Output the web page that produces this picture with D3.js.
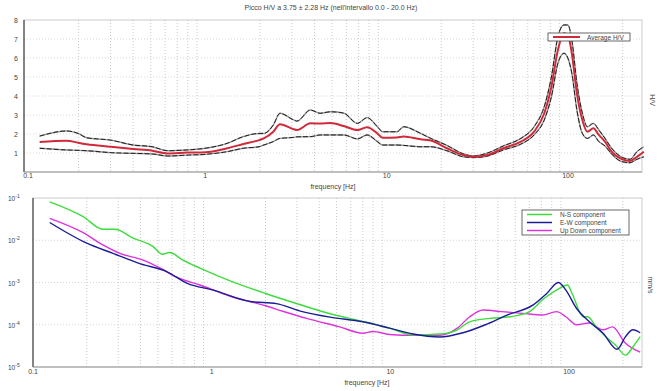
<!DOCTYPE html>
<html><head><meta charset="utf-8">
<script src="https://cdn.jsdelivr.net/npm/d3@7"></script>
<style>body{margin:0;background:#fff}svg{display:block;font-family:Arial,"Liberation Sans",sans-serif}</style>
</head><body><svg id="c" width="660" height="391"></svg>
<script>
// ---- data ----
const hvFreq = [0.122,0.172,0.199,0.222,0.30,0.40,0.51,0.62,0.79,1.0,1.32,1.62,1.98,2.1,2.37,2.58,3.07,3.2,3.8,4.3,4.9,5.8,6.9,7.8,8.9,9.5,11.4,12.4,15.4,17.5,21.5,26.5,30.3,36,44,55,65,74,81,88,95,100,105,112,120,128,138,148,160,174,199,220,240,262];
const hvAvg  = [1.58,1.65,1.54,1.46,1.33,1.21,1.12,0.98,1.02,1.04,1.25,1.47,1.68,1.77,2.12,2.51,2.25,2.21,2.56,2.55,2.58,2.42,2.21,2.36,2.03,1.80,1.82,1.87,1.72,1.66,1.25,0.89,0.80,0.89,1.25,1.60,2.12,3.09,4.49,6.42,7.30,7.20,6.25,4.14,2.74,2.12,2.30,1.95,1.60,1.07,0.67,0.58,0.80,1.07];
const hvUp   = [1.89,2.16,2.03,1.80,1.68,1.42,1.33,1.12,1.16,1.25,1.51,1.86,2.03,2.03,2.47,3.09,2.74,2.68,3.26,3.09,3.17,3.10,2.56,2.86,2.38,2.12,2.12,2.38,2.03,1.77,1.40,0.95,0.84,1.00,1.37,1.77,2.38,3.44,5.00,7.12,7.74,7.74,6.95,4.67,3.10,2.38,2.56,2.21,1.77,1.25,0.77,0.67,1.07,1.33];
const hvLow  = [1.25,1.16,1.14,1.12,1.02,0.98,0.95,0.84,0.89,0.93,1.07,1.25,1.33,1.42,1.60,1.77,1.82,1.85,1.86,1.95,1.95,1.95,1.74,1.95,1.60,1.42,1.42,1.40,1.33,1.33,1.12,0.80,0.76,0.84,1.16,1.47,1.95,2.74,3.96,5.72,6.25,5.98,5.20,3.26,2.03,1.77,1.95,1.60,1.37,0.95,0.54,0.49,0.67,0.80];

const nsFreq = [0.124,0.191,0.246,0.288,0.363,0.47,0.53,0.58,0.69,0.86,1.3,2.0,3.1,4.6,7.0,9.9,13.4,18.9,23.7,27.8,36,47,60,71,85,98,104,120,127,142,160,182,207,228,250];
const nsLog  = [-1.09,-1.44,-1.74,-1.74,-1.95,-2.15,-2.33,-2.29,-2.47,-2.66,-2.98,-3.26,-3.52,-3.74,-3.92,-4.08,-4.24,-4.22,-4.12,-3.93,-3.85,-3.81,-3.69,-3.41,-3.18,-3.06,-3.26,-3.81,-3.81,-4.05,-4.28,-4.48,-4.72,-4.52,-4.28];
const ewFreq = [0.124,0.2,0.28,0.4,0.56,0.73,1.02,1.64,2.3,3.1,4.6,7.0,9.9,13.4,18.9,25.5,34,45,63,75,87,96,110,130,155,186,207,228,250];
const ewLog  = [-1.58,-2.07,-2.31,-2.56,-2.74,-3.02,-3.18,-3.45,-3.50,-3.67,-3.82,-3.93,-4.08,-4.22,-4.29,-4.19,-4.0,-3.77,-3.53,-3.26,-3.0,-3.18,-3.61,-3.93,-4.2,-4.58,-4.28,-4.12,-4.19];
const udFreq = [0.124,0.191,0.246,0.306,0.413,0.51,0.64,0.86,1.26,2.0,2.5,3.4,5.2,7.0,8.0,9.9,13.4,18.9,23.7,27.8,33,42,55,71,85,96,110,130,155,175,207,250];
const udLog  = [-1.48,-1.82,-2.11,-2.31,-2.47,-2.65,-2.88,-3.06,-3.32,-3.55,-3.68,-3.85,-4.05,-4.2,-4.16,-4.23,-4.25,-4.25,-4.08,-3.81,-3.65,-3.69,-3.73,-3.77,-3.69,-3.81,-4.0,-3.96,-4.12,-4.05,-4.44,-4.65];

const xTickVals = [0.1,1,10,100];
const xTickLabels = ["0.1","1","10","100"];
const hvTicks = [1,2,3,4,5,6,7,8];
const specTicks = [-1,-2,-3,-4,-5];
const minorTicks = [0.2,0.3,0.4,0.5,0.6,0.7,0.8,0.9,2,3,4,5,6,7,8,9,20,30,40,50,60,70,80,90,200];
const titleText = "Picco H/V a 3.75 \u00b1 2.28 Hz (nell'intervallo 0.0 - 20.0 Hz)";
const legendNames = ["N-S component","E-W component","Up Down component"];
const colors = ["#3ddc3d","#1c1c96","#dd33dd"];

const svg = d3.select("#c");
const txt = "#444";

// ---- top panel ----
const xT = d3.scaleLog().domain([0.1,256]).range([24,642]);
const yT = d3.scaleLinear().domain([0,8]).range([172,20]);

svg.append("rect").attr("x",24).attr("y",20).attr("width",618).attr("height",152).attr("fill","none").attr("stroke","#ccc");
const gT = svg.append("g");
gT.selectAll("line.mv").data(minorTicks).join("line").attr("x1",d=>xT(d)).attr("x2",d=>xT(d)).attr("y1",20).attr("y2",172)
  .attr("stroke","#bbb").attr("stroke-dasharray","1,2").attr("stroke-width",0.8);
gT.selectAll("line.mh").data(hvTicks.slice(0,7)).join("line").attr("x1",24).attr("x2",642).attr("y1",d=>yT(d)).attr("y2",d=>yT(d))
  .attr("stroke","#ccc").attr("stroke-dasharray","1,2").attr("stroke-width",0.8);
svg.append("line").attr("x1",24).attr("x2",24).attr("y1",20).attr("y2",172).attr("stroke","#222");
svg.append("line").attr("x1",24).attr("x2",642).attr("y1",172).attr("y2",172).attr("stroke","#999");

const lineT = (fa,va)=>d3.line().curve(d3.curveMonotoneX).x((d,i)=>xT(fa[i])).y(d=>yT(d))(va);
svg.append("path").attr("d",lineT(hvFreq,hvUp)).attr("fill","none").attr("stroke","#999").attr("stroke-width",1.4);
svg.append("path").attr("d",lineT(hvFreq,hvLow)).attr("fill","none").attr("stroke","#999").attr("stroke-width",1.4);
svg.append("path").attr("d",lineT(hvFreq,hvUp)).attr("fill","none").attr("stroke","#111").attr("stroke-width",0.9).attr("stroke-dasharray","5,2");
svg.append("path").attr("d",lineT(hvFreq,hvLow)).attr("fill","none").attr("stroke","#111").attr("stroke-width",0.9).attr("stroke-dasharray","5,2");
svg.append("path").attr("d",lineT(hvFreq,hvAvg)).attr("fill","none").attr("stroke","#d02a3a").attr("stroke-width",2);

svg.selectAll("text.ytt").data(hvTicks).join("text").attr("x",16).attr("y",d=>yT(d)+2.5)
  .attr("text-anchor","middle").attr("font-size",7).attr("fill",txt).text(d=>d);
svg.selectAll("text.xtt").data(xTickVals).join("text").attr("x",d=>xT(d)+(d===0.1?4:0)).attr("y",178)
  .attr("text-anchor","middle").attr("font-size",7).attr("fill",txt).text((d,i)=>xTickLabels[i]);
svg.append("text").attr("x",331).attr("y",10).attr("text-anchor","middle").attr("font-size",7).attr("fill",txt).text(titleText);
svg.append("text").attr("x",333).attr("y",189).attr("text-anchor","middle").attr("font-size",7).attr("fill",txt).text("frequency [Hz]");
svg.append("text").attr("transform","translate(650,100) rotate(90)").attr("text-anchor","middle").attr("font-size",7).attr("fill",txt).text("H/V");

// legend top
svg.append("rect").attr("x",548).attr("y",33).attr("width",82).attr("height",8).attr("fill","#fff").attr("stroke","#444").attr("stroke-width",0.8);
svg.append("line").attr("x1",553).attr("x2",580).attr("y1",37).attr("y2",37).attr("stroke","#d02a3a").attr("stroke-width",2);
svg.append("text").attr("x",587).attr("y",39.5).attr("font-size",6.5).attr("fill",txt).text("Average H/V");

// ---- bottom panel ----
const xB = d3.scaleLog().domain([0.1,256]).range([33,642]);
const yB = d3.scaleLinear().domain([-5,-1]).range([367,198]);

svg.append("rect").attr("x",33).attr("y",198).attr("width",609).attr("height",169).attr("fill","none").attr("stroke","#ccc");
svg.selectAll("line.bv").data(minorTicks).join("line").attr("x1",d=>xB(d)).attr("x2",d=>xB(d)).attr("y1",198).attr("y2",367)
  .attr("stroke","#bbb").attr("stroke-dasharray","1,2").attr("stroke-width",0.8);
svg.selectAll("line.bh").data([-2,-3,-4]).join("line").attr("x1",33).attr("x2",642).attr("y1",d=>yB(d)).attr("y2",d=>yB(d))
  .attr("stroke","#ccc").attr("stroke-dasharray","1,2").attr("stroke-width",0.8);
svg.append("line").attr("x1",33).attr("x2",33).attr("y1",198).attr("y2",367).attr("stroke","#222");
svg.append("line").attr("x1",33).attr("x2",642).attr("y1",367).attr("y2",367).attr("stroke","#999");

const lineB = (fa,va)=>d3.line().curve(d3.curveMonotoneX).x((d,i)=>xB(fa[i])).y(d=>yB(d))(va);
[[udFreq,udLog,2],[nsFreq,nsLog,0],[ewFreq,ewLog,1]].forEach(([f,v,c])=>{
  svg.append("path").attr("d",lineB(f,v)).attr("fill","none").attr("stroke",colors[c]).attr("stroke-width",1.4);
});

const yl = svg.selectAll("text.ytb").data(specTicks).join("text").attr("x",8).attr("y",d=>yB(d)+3)
  .attr("font-size",6.5).attr("fill",txt);
yl.append("tspan").text("10");
yl.append("tspan").attr("dy",-3).attr("font-size",5).text(d=>d);
svg.selectAll("text.xtb").data(xTickVals).join("text").attr("x",d=>xB(d)).attr("y",374)
  .attr("text-anchor","middle").attr("font-size",7).attr("fill",txt).text((d,i)=>xTickLabels[i]);
svg.append("text").attr("x",367).attr("y",385).attr("text-anchor","middle").attr("font-size",7).attr("fill",txt).text("frequency [Hz]");
svg.append("text").attr("transform","translate(648,285) rotate(90)").attr("text-anchor","middle").attr("font-size",7).attr("fill",txt).text("mm/s");

// legend bottom
svg.append("rect").attr("x",522).attr("y",210).attr("width",107).attr("height",25).attr("fill","#fff").attr("stroke","#444").attr("stroke-width",0.8);
legendNames.forEach((n,i)=>{
  const yy = 214.5 + i*8;
  svg.append("line").attr("x1",527).attr("x2",552).attr("y1",yy).attr("y2",yy).attr("stroke",colors[i]).attr("stroke-width",1.5);
  svg.append("text").attr("x",560).attr("y",yy+2.3).attr("font-size",6.5).attr("fill",txt).text(n);
});
</script></body></html>
